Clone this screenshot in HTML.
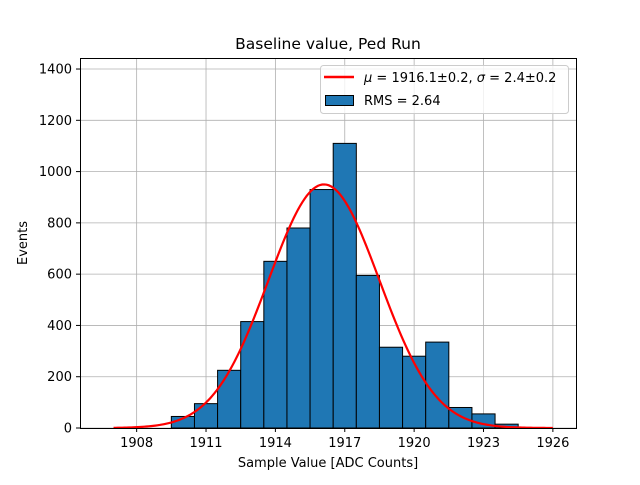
<!DOCTYPE html>
<html><head><meta charset="utf-8"><style>
body{margin:0;background:#fff;}
svg{font-family:"DejaVu Sans","Liberation Sans",sans-serif;}
</style></head><body>
<svg id="chart" width="640" height="480">
<rect width="640" height="480" fill="#fff"/>
<g id="grid"></g>
<g id="bars"></g>
<g id="fit"></g>
<rect x="80.5" y="58.5" width="496" height="370" fill="none" stroke="#000" stroke-width="1"/>
<g id="ticks" font-size="13"></g>
<text x="328" y="49" text-anchor="middle" font-size="15.5">Baseline value, Ped Run</text>
<text x="328" y="467" text-anchor="middle" font-size="13">Sample Value [ADC Counts]</text>
<text transform="translate(27,243) rotate(-90)" text-anchor="middle" font-size="13">Events</text>
<g>
<rect x="320.5" y="65.5" width="248" height="48" rx="3" fill="#fff" fill-opacity="0.8" stroke="#ccc"/>
<line x1="324" y1="77" x2="354" y2="77" stroke="red" stroke-width="2.5"/>
<text x="364" y="82" font-size="13"><tspan font-style="italic">μ</tspan> = 1916.1±0.2, <tspan font-style="italic">σ</tspan> = 2.4±0.2</text>
<rect x="325.5" y="95.5" width="28" height="10" fill="#1f77b4" stroke="#000"/>
<text x="364" y="105" font-size="13">RMS = 2.64</text>
</g>
</svg>
<script>
const binCenters=[1910,1911,1912,1913,1914,1915,1916,1917,1918,1919,1920,1921,1922,1923,1924];
const counts=[45,95,225,415,650,780,930,1110,595,315,280,335,80,55,15];
const fitParams=[950,1916.1,2.4];
const fitRange=[1907,1926];
const xTicks=[1908,1911,1914,1917,1920,1923,1926];
const yTicks=[0,200,400,600,800,1000,1200,1400];
const NS="http://www.w3.org/2000/svg";
const x0=1905.55,x1=1927.0,y0=0,y1=1443;
const X=v=>80+(v-x0)/(x1-x0)*496;
const Y=v=>428-(v-y0)/(y1-y0)*370;
function mk(t,a,p){const e=document.createElementNS(NS,t);for(const k in a)e.setAttribute(k,a[k]);p.appendChild(e);return e;}
const grid=document.getElementById('grid'),ticks=document.getElementById('ticks');
xTicks.forEach(v=>{const x=X(v);
const g=mk('line',{x1:x,x2:x,y1:58,y2:428,stroke:'#b0b0b0','stroke-width':0.8},grid);


mk('line',{x1:x,x2:x,y1:428,y2:432,stroke:'#000'},ticks);
const t=mk('text',{x:x,y:447,'text-anchor':'middle'},ticks);t.textContent=v;

});
yTicks.forEach(v=>{const y=Y(v);
const g=mk('line',{x1:80,x2:576,y1:y,y2:y,stroke:'#b0b0b0','stroke-width':0.8},grid);


mk('line',{x1:76,x2:80,y1:y,y2:y,stroke:'#000'},ticks);
const t=mk('text',{x:72,y:y+4.5,'text-anchor':'end'},ticks);t.textContent=v;

});
const bars=document.getElementById('bars');
binCenters.forEach((c,i)=>{const xa=X(c-0.5),xb=X(c+0.5);
const r=mk('rect',{x:xa,y:Y(counts[i]),width:xb-xa,height:Y(0)-Y(counts[i]),fill:'#1f77b4',stroke:'#000','stroke-width':1},bars);

});
let d='';const [A,mu,s]=fitParams;
for(let i=0;i<=200;i++){const v=fitRange[0]+(fitRange[1]-fitRange[0])*i/200;
const f=A*Math.exp(-0.5*((v-mu)/s)**2);d+=(i?'L':'M')+X(v).toFixed(2)+','+Y(f).toFixed(2);}
const p=mk('path',{d:d,fill:'none',stroke:'red','stroke-width':2.2},document.getElementById('fit'));


</script>
</body></html>
